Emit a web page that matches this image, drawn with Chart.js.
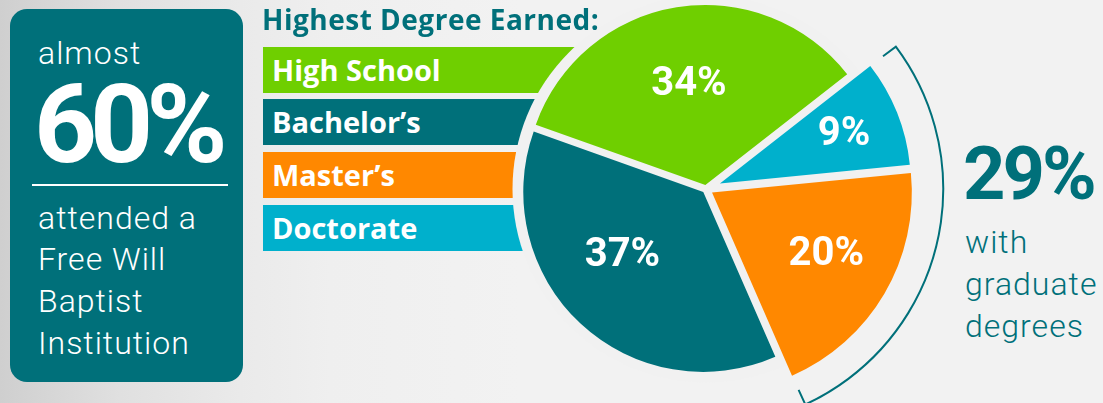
<!DOCTYPE html>
<html>
<head>
<meta charset="utf-8">
<script src="https://cdn.jsdelivr.net/npm/chart.js@4.4.1/dist/chart.umd.min.js"></script>
<style>
  html, body { margin: 0; padding: 0; }
  body {
    width: 1103px; height: 403px; overflow: hidden; position: relative;
    background: linear-gradient(to right, #cfcfcf 0px, #e0e0e0 120px, #eaeaea 240px, #efefef 330px, #f2f2f2 520px, #f2f2f2 100%);
    font-family: Roboto, "Noto Sans", sans-serif;
  }
  .abs { position: absolute; white-space: nowrap; }
  #box { left: 10px; top: 9px; width: 233px; height: 373px; border-radius: 17px; background: #00707a; }
  .thin { font-weight: 300; font-size: 32px; line-height: 32px; letter-spacing: 1px; }
  #rule { left: 32px; top: 184px; width: 196px; height: 2px; background: #ffffff; }
  #title { left: 262px; top: 5px; font-family: "Open Sans", sans-serif; font-weight: 700; font-size: 28px; line-height: 28px; letter-spacing: 0.5px; color: #00707a; z-index: 3; }
  .bar { position: absolute; left: 263px; width: 380px; height: 46px; line-height: 46px; padding-left: 9px; box-sizing: border-box;
         font-family: "Open Sans", sans-serif; font-weight: 700; font-size: 29px; color: #ffffff; z-index: 1; }
  canvas { position: absolute; left: 0; top: 0; z-index: 2; pointer-events: none; }
</style>
</head>
<body>
<div id="box" class="abs"></div>
<div id="almost" class="abs thin" style="left:38px;top:37px;color:#fff;">almost</div>
<div id="big" class="abs" style="left:34px;top:70px;color:#fff;font-weight:700;font-size:110px;line-height:110px;letter-spacing:-7px;"></div>
<div id="rule" class="abs"></div>
<div class="abs thin" style="left:38px;top:202px;color:#fff;">attended a</div>
<div class="abs thin" style="left:38px;top:243px;color:#fff;">Free Will</div>
<div class="abs thin" style="left:38px;top:285px;color:#fff;">Baptist</div>
<div class="abs thin" style="left:38px;top:327px;color:#fff;">Institution</div>
<div id="title" class="abs">Highest Degree Earned:</div>
<div id="legend"></div>
<div id="grad" class="abs" style="left:963px;top:137px;color:#00707a;font-weight:700;font-size:74px;line-height:74px;letter-spacing:-3px;"></div>
<div class="abs thin" style="left:965px;top:226px;color:#00707a;">with</div>
<div class="abs thin" style="left:965px;top:268px;color:#00707a;">graduate</div>
<div class="abs thin" style="left:965px;top:310px;color:#00707a;">degrees</div>
<canvas id="c" width="1103" height="403"></canvas>
<script>
// ---- data ----
const categories = ["High School", "Bachelor’s", "Master’s", "Doctorate"];
const shares = [34, 37, 20, 9];
const pieOrder = ["High School", "Doctorate", "Master’s", "Bachelor’s"];
const graduateCategories = ["Master’s", "Doctorate"];
const institutionShare = 60;

// ---- styles ----
const colorOf = { "High School": "#6fcf00", "Bachelor’s": "#00707a", "Master’s": "#ff8800", "Doctorate": "#00b0cc" };
const slideOut = { "High School": 4, "Bachelor’s": 4, "Master’s": 7, "Doctorate": 15 };
const radiusScale = { "High School": 1.0, "Bachelor’s": 1.0, "Master’s": 1.11, "Doctorate": 1.06 };
const labelFrac = { "High School": 0.57, "Bachelor’s": 0.57, "Master’s": 0.65, "Doctorate": 0.70 };
const labelTurn = { "High School": 0, "Bachelor’s": 9, "Master’s": -2, "Doctorate": 0 };
const bgDisc = "#f1f1f1";
const barTops = [47, 99, 152, 205];

// legend bars
const legend = document.getElementById('legend');
categories.forEach((c, i) => {
  const d = document.createElement('div');
  d.className = 'bar';
  d.style.top = barTops[i] + 'px';
  d.style.background = colorOf[c];
  d.textContent = c;
  legend.appendChild(d);
});
document.getElementById('big').textContent = institutionShare + '%';
const gradTotal = graduateCategories.reduce((s, c) => s + shares[categories.indexOf(c)], 0);
document.getElementById('grad').textContent = gradTotal + '%';

const pieValues = pieOrder.map(c => shares[categories.indexOf(c)]);

const piePlugin = {
  id: 'piePlugin',
  afterDatasetsUpdate(chart) {
    const meta = chart.getDatasetMeta(0);
    meta.data.forEach((arc, i) => {
      const name = pieOrder[i];
      const mid = (arc.startAngle + arc.endAngle) / 2;
      arc.x = arc.x + slideOut[name] * Math.cos(mid);
      arc.y = arc.y + slideOut[name] * Math.sin(mid);
      arc.outerRadius = arc.outerRadius * radiusScale[name];
    });
  },
  beforeDatasetsDraw(chart) {
    const a = chart.chartArea;
    const cx = (a.left + a.right) / 2, cy = (a.top + a.bottom) / 2;
    const R = Math.min(a.width, a.height) / 2;
    const ctx = chart.ctx;
    ctx.save();
    ctx.fillStyle = bgDisc;
    ctx.beginPath();
    ctx.arc(cx, cy, R * 1.075, 0, Math.PI * 2);
    ctx.fill();
    ctx.restore();
  },
  afterDatasetsDraw(chart) {
    const meta = chart.getDatasetMeta(0);
    const ctx = chart.ctx;
    const a = chart.chartArea;
    const cx = (a.left + a.right) / 2, cy = (a.top + a.bottom) / 2;
    const R = Math.min(a.width, a.height) / 2;
    ctx.save();
    ctx.fillStyle = '#ffffff';
    ctx.font = '700 40px Roboto, "Noto Sans", sans-serif';
    ctx.textAlign = 'center';
    ctx.textBaseline = 'middle';
    meta.data.forEach((arc, i) => {
      const name = pieOrder[i];
      const mid = (arc.startAngle + arc.endAngle) / 2 + labelTurn[name] * Math.PI / 180;
      const r = arc.outerRadius * labelFrac[name];
      ctx.fillText(pieValues[i] + '%', arc.x + r * Math.cos(mid), arc.y + r * Math.sin(mid) + 1);
    });
    // bracket around graduate slices
    const idx = graduateCategories.map(c => pieOrder.indexOf(c));
    const s = Math.min(...idx.map(i => meta.data[i].startAngle)) + 0.02;
    const e = Math.max(...idx.map(i => meta.data[i].endAngle)) - 0.02;
    const br = R * 1.318;
    const tick = 16;
    ctx.strokeStyle = '#00707a';
    ctx.lineWidth = 2;
    ctx.lineJoin = 'miter';
    ctx.beginPath();
    ctx.moveTo(cx + (br - tick) * Math.cos(s), cy + (br - tick) * Math.sin(s));
    ctx.lineTo(cx + br * Math.cos(s), cy + br * Math.sin(s));
    ctx.arc(cx, cy, br, s, e);
    ctx.lineTo(cx + (br - tick) * Math.cos(e), cy + (br - tick) * Math.sin(e));
    ctx.stroke();
    ctx.restore();
  }
};

new Chart(document.getElementById('c'), {
  type: 'pie',
  data: {
    labels: pieOrder,
    datasets: [{
      data: pieValues,
      backgroundColor: pieOrder.map(c => colorOf[c]),
      borderWidth: 0
    }]
  },
  options: {
    responsive: false,
    animation: false,
    rotation: -70.4,
    layout: { padding: { left: 526, right: 217, top: 9, bottom: 34 } },
    plugins: { legend: { display: false }, tooltip: { enabled: false } }
  },
  plugins: [piePlugin]
});
</script>
</body>
</html>
